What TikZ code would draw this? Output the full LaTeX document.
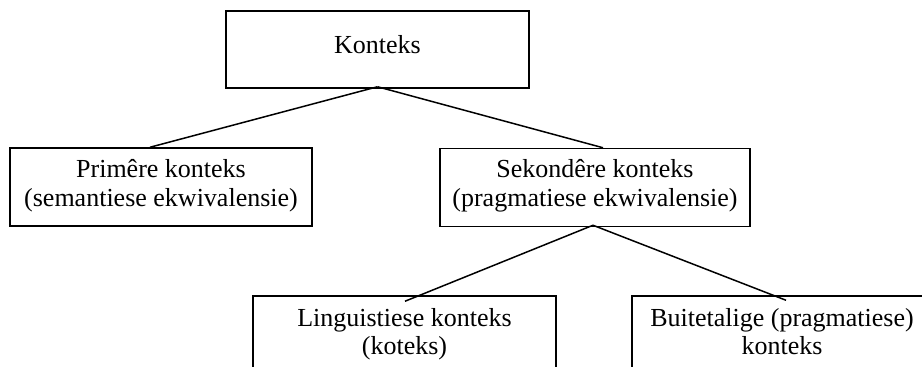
\documentclass[tikz,border=0pt]{standalone}
\usepackage{fontspec}
\setmainfont{Liberation Serif}
\begin{document}
\begin{tikzpicture}[x=1pt,y=-1pt,
  box/.style={draw=black,line width=1.5pt,inner sep=0pt,fill=none},
  txt/.style={inner sep=0pt,anchor=base,font=\fontsize{26}{29}\selectfont},
  conn/.style={draw=black,line width=1.5pt}]
\useasboundingbox (0,0) rectangle (922,367);
\clip (0,0) rectangle (922,367);
% boxes
\node[box,minimum width=303pt,minimum height=77pt] (top) at (377.5,49.5) {};
\node[box,minimum width=302pt,minimum height=78pt] (prim) at (161,187) {};
\node[box,minimum width=310pt,minimum height=78pt] (sek) at (595,187.5) {};
\node[box,minimum width=303pt,minimum height=98pt] (ling) at (404.5,345) {};
\node[box,minimum width=300pt,minimum height=98pt] (buit) at (782,345) {};
% texts
\node[txt] (topt) at (377.5,53) {Konteks};
\node[txt] (prim1) at (161,177) {Primêre konteks};
\node[txt] (prim2) at (161,206) {(semantiese ekwivalensie)};
\node[txt] (sek1) at (595,177) {Sekondêre konteks};
\node[txt] (sek2) at (595,206) {(pragmatiese ekwivalensie)};
\node[txt] (ling1) at (404.5,326) {Linguistiese konteks};
\node[txt] (ling2) at (404.5,354) {(koteks)};
\node[txt] (buit1) at (782,326) {Buitetalige (pragmatiese)};
\node[txt] (buit2) at (782,354) {konteks};
% connectors
\draw[conn] ([yshift=2pt]top.south) -- ([xshift=-11pt]prim.north);
\draw[conn] ([yshift=2pt]top.south) -- ([xshift=8pt]sek.north);
\draw[conn] ([xshift=-2pt,yshift=2pt]sek.south) -- ([xshift=0.5pt,yshift=-6pt]ling.north);
\draw[conn] ([xshift=-2pt,yshift=2pt]sek.south) -- ([xshift=4pt,yshift=-5pt]buit.north);
\end{tikzpicture}
\end{document}
